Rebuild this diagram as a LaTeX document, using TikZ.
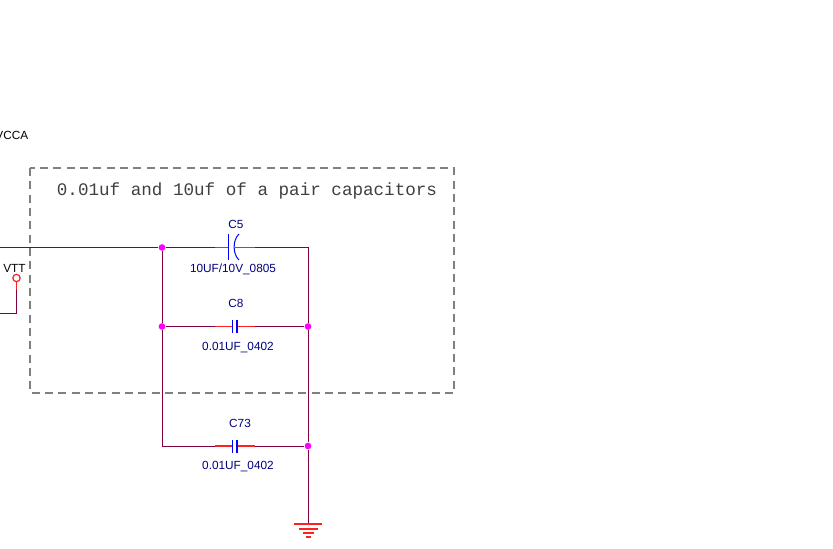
\documentclass[tikz,border=0pt]{standalone}
\usepackage{fontspec}
\setmainfont{Liberation Sans}
\newfontfamily\monofont{Liberation Mono}
\definecolor{wirecol}{HTML}{800040}
\definecolor{pincol}{HTML}{FF2020}
\definecolor{capcol}{HTML}{0000FF}
\definecolor{labelcol}{HTML}{000080}
\definecolor{dotcol}{HTML}{FF00FF}
\tikzset{
    wire/.style={draw=wirecol,line width=0.75pt},
    pin/.style={draw=pincol,line width=0.9pt},
    plate/.style={draw=capcol,line width=0.75pt},
    junction/.style={circle,fill=dotcol,inner sep=0pt,minimum size=5pt},
    partlabel/.style={text=labelcol,font=\fontsize{8.85}{10}\selectfont,inner sep=0pt},
}
\begin{document}
\begin{tikzpicture}[x=0.75pt,y=-0.75pt]
        \useasboundingbox (0,0) rectangle (833,549);
        % dashed box
        \draw[draw=black!50,line width=0.9pt,dash pattern=on 6pt off 4pt] (30,168) rectangle (454,393);
        \node[inner sep=0pt,font=\monofont\fontsize{13.2}{15}\selectfont,text=black!75] (title) at (247,191) {0.01uf and 10uf of a pair capacitors};
        % junctions
        \node[junction] (jtl) at (162,247.5) {};
        \node[junction] (jml) at (162,326.5) {};
        \node[junction] (jmr) at (308,326.5) {};
        \node[junction] (jbr) at (308,446) {};
        \coordinate (jtr) at (308,247.5);
        \coordinate (jbl) at (162,446);
        \coordinate (gnd) at (308,524);
        \coordinate (in) at (0,247.5);
        % pin ends
        \coordinate (c5a) at (215,247.5);
        \coordinate (c5b) at (229,247.5);
        \coordinate (c5c) at (235,247.5);
        \coordinate (c5d) at (255,247.5);
        \coordinate (c8a) at (215,326.5);
        \coordinate (c8b) at (232,326.5);
        \coordinate (c8c) at (237,326.5);
        \coordinate (c8d) at (255,326.5);
        \coordinate (c73a) at (215,446);
        \coordinate (c73b) at (232,446);
        \coordinate (c73c) at (237,446);
        \coordinate (c73d) at (255,446);
        % wires
        \draw[wire] (in) -- (jtl) -- (c5a);
        \draw[wire] (c5d) -- (jtr) -- (jmr) -- (jbr) -- (gnd);
        \draw[wire] (jtl) -- (jml) -- (jbl) -- (c73a);
        \draw[wire] (jml) -- (c8a);
        \draw[wire] (c8d) -- (jmr);
        \draw[wire] (c73d) -- (jbr);
        % C5
        \draw[pin] (c5a) -- (c5b);
        \draw[pin] (c5c) -- (c5d);
        \draw[plate] (228.5,234) -- (228.5,260);
        \draw[plate] (239,234) .. controls (232.5,240) and (232.5,254) .. (239,260);
        \node[partlabel] (c5ref) at (236,224) {C5};
        \node[partlabel] (c5val) at (233,269) {10UF/10V\_0805};
        % C8
        \draw[pin] (c8a) -- (c8b);
        \draw[pin] (c8c) -- (c8d);
        \draw[plate] (232,320.5) -- (232,333);
        \draw[plate,line width=2.2pt] (237,320.5) -- (237,333);
        \node[partlabel] (c8ref) at (236,303) {C8};
        \node[partlabel] (c8val) at (238,348) {0.01UF\_0402};
        % C73
        \draw[pin] (c73a) -- (c73b);
        \draw[pin] (c73c) -- (c73d);
        \draw[plate] (232,440) -- (232,452.5);
        \draw[plate,line width=2.2pt] (237,440) -- (237,452.5);
        \node[partlabel] (c73ref) at (240,423) {C73};
        \node[partlabel] (c73val) at (238,467) {0.01UF\_0402};
        % ground
        \coordinate (g1a) at (294,524);
        \coordinate (g1b) at (322,524);
        \coordinate (g2a) at (299,529);
        \coordinate (g2b) at (318,529);
        \coordinate (g3a) at (303,533);
        \coordinate (g3b) at (314,533);
        \coordinate (g4a) at (306,537);
        \coordinate (g4b) at (311,537);
        \draw[pin] (g1a) -- (g1b);
        \draw[pin] (g2a) -- (g2b);
        \draw[pin] (g3a) -- (g3b);
        \draw[pin] (g4a) -- (g4b);
        % VTT
        \node[circle,draw=pincol,line width=0.9pt,inner sep=0pt,minimum size=5.5pt] (vtt) at (16.5,278) {};
        \coordinate (vttk) at (16.5,314);
        \coordinate (vttp) at (16.5,290);
        \coordinate (vttl) at (0,314);
        \draw[wire] (vttp) -- (vttk) -- (vttl);
        \draw[pin] (vtt) -- (vttp);
        \node[inner sep=0pt,font=\fontsize{8.85}{10}\selectfont] (vttname) at (14.5,268) {VTT};
        \node[inner sep=0pt,font=\fontsize{8.85}{10}\selectfont,anchor=east] (vcca) at (28.5,135) {VCCA};
    \end{tikzpicture}
\end{document}
